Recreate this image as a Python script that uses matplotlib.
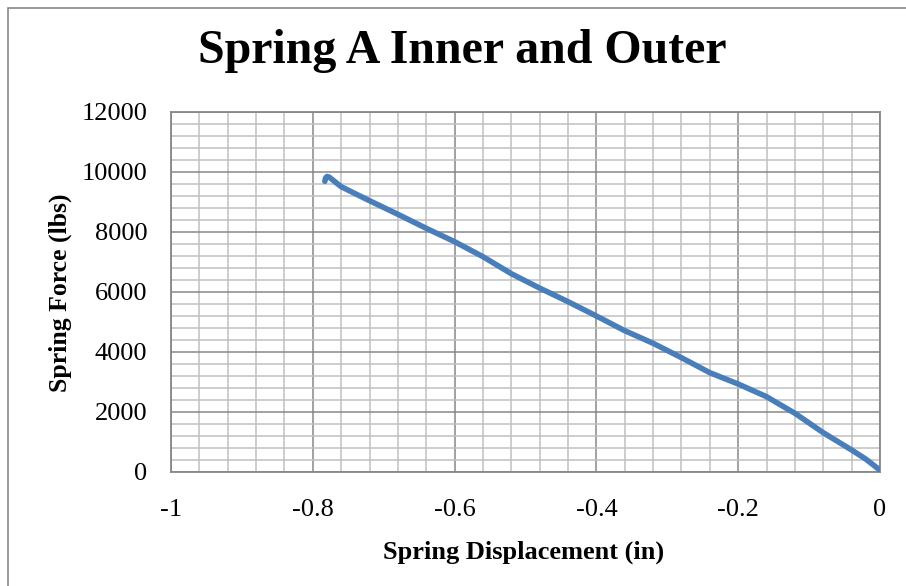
import matplotlib
matplotlib.use("Agg")
import matplotlib.pyplot as plt
from matplotlib.ticker import MultipleLocator
from matplotlib.patches import Rectangle

displacement = [-0.783, -0.782, -0.780, -0.777, -0.76, -0.72, -0.68, -0.64, -0.60, -0.56,
                -0.52, -0.48, -0.44, -0.40, -0.36, -0.32, -0.28, -0.24, -0.20, -0.16,
                -0.12, -0.08, -0.04, -0.02, 0.0]
force = [9680, 9790, 9840, 9820, 9500, 9033, 8580, 8113, 7667, 7167,
         6600, 6120, 5667, 5190, 4700, 4280, 3800, 3300, 2923, 2500,
         1947, 1300, 723, 420, 50]

title = "Spring A Inner and Outer"
xlabel = "Spring Displacement (in)"
ylabel = "Spring Force (lbs)"

plt.rcParams['font.family'] = ['Liberation Serif', 'DejaVu Serif']

fig = plt.figure(figsize=(9.06, 5.86), dpi=100)
ax = fig.add_axes([171/906, 1-471.7/586, (880-171)/906, (471.7-111.7)/586])

ax.plot(displacement, force, color='#4a7ebb', lw=4, solid_capstyle='round',
        solid_joinstyle='round', zorder=3)

ax.set_xlim(-1, 0)
ax.set_ylim(0, 12000)
ax.xaxis.set_major_locator(MultipleLocator(0.2))
ax.xaxis.set_minor_locator(MultipleLocator(0.04))
ax.yaxis.set_major_locator(MultipleLocator(2000))
ax.yaxis.set_minor_locator(MultipleLocator(400))
ax.grid(which='major', color='#878787', lw=1.1)
ax.grid(which='minor', color='#c0c0c0', lw=1.1)
ax.set_axisbelow(True)

ax.set_xticks([-1, -0.8, -0.6, -0.4, -0.2, 0])
ax.set_xticklabels(['-1', '-0.8', '-0.6', '-0.4', '-0.2', '0'])
ax.set_yticks([0, 2000, 4000, 6000, 8000, 10000, 12000])
ax.set_yticklabels(['0', '2000', '4000', '6000', '8000', '10000', '12000'])
ax.tick_params(which='both', length=0)
ax.tick_params(axis='x', labelsize=19, pad=20)
ax.tick_params(axis='y', labelsize=19, pad=17)

for s in ax.spines.values():
    s.set_color('#878787')
    s.set_linewidth(1.3)

fig.text(524/906, 1-552/586, xlabel, ha='center', va='center', fontsize=19, fontweight='bold')
fig.text(60/906, 1-293/586, ylabel, ha='center', va='center', fontsize=18.5,
         fontweight='bold', rotation=90)
fig.text(462/906, 1-51/586, title, ha='center', va='center', fontsize=34.5, fontweight='bold')

fig.patches.append(Rectangle((8/906, -0.1), 1.2, 1-8/586+0.1, transform=fig.transFigure,
                             fill=False, edgecolor='#888888', lw=1.2))

fig.savefig('out.png', dpi=100)
